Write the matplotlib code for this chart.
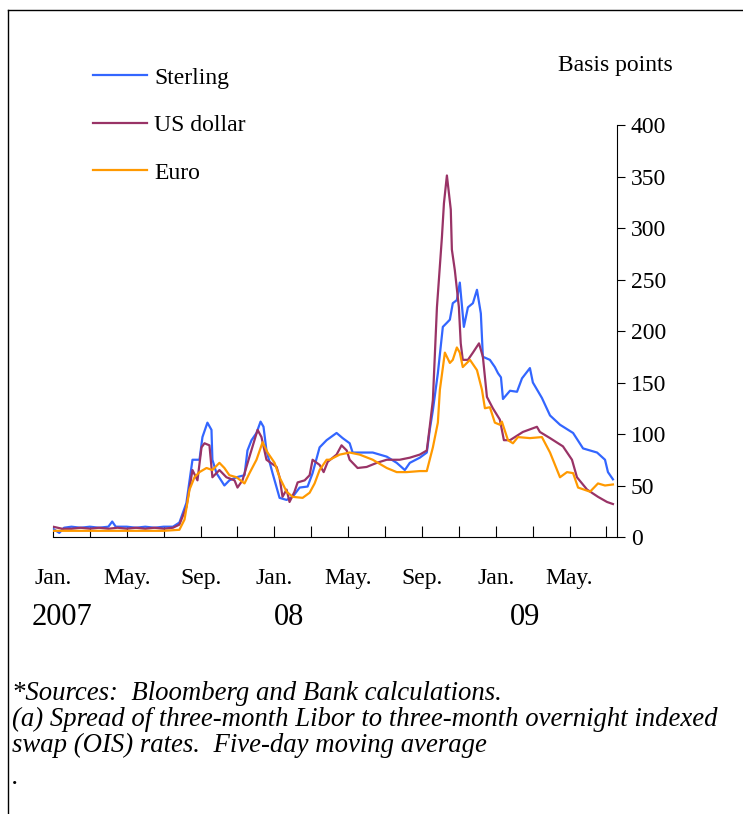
import matplotlib
matplotlib.use("Agg")
import matplotlib.pyplot as plt
from matplotlib.lines import Line2D

# months since Jan. 2007 and spread in basis points
sterling_m = [0.0, 0.34, 0.6, 1.0, 1.5, 2.0, 2.5, 3.0, 3.21, 3.4, 4.0, 4.5, 5.0, 5.5, 6.0, 6.5,
              6.85, 7.23, 7.56, 7.94, 8.10, 8.37, 8.59, 8.64, 8.86, 9.29, 9.56, 9.95, 10.38,
              10.54, 10.76, 11.03, 11.25, 11.41, 11.57, 11.90, 12.28, 12.66, 12.99, 13.37,
              13.80, 14.07, 14.45, 14.83, 15.37, 15.70, 16.08, 16.24, 17.00, 17.33, 18.09,
              18.63, 19.07, 19.34, 19.88, 20.26, 20.42, 20.59, 20.86, 21.13, 21.35, 21.51,
              21.67, 21.89, 22.05, 22.27, 22.49, 22.76, 22.98, 23.19, 23.30, 23.68, 23.95,
              24.12, 24.28, 24.39, 24.77, 25.15, 25.42, 25.85, 26.01, 26.50, 26.94, 27.48,
              28.19, 28.73, 29.49, 29.92, 30.08, 30.35]
sterling = [8, 4, 9, 10, 9, 10, 9, 10, 15, 10, 10, 9, 10, 9, 10, 10,
            14, 33, 75, 75, 97, 111, 104, 75, 62, 50, 55, 58, 60,
            84, 94, 101, 112, 107, 84, 62, 38, 36, 39, 48,
            49, 62, 87, 94, 101, 96, 91, 82, 82, 82, 78,
            72, 65, 72, 77, 82, 104, 123, 159, 204, 208, 211,
            227, 230, 247, 204, 223, 227, 240, 217, 175, 172, 165,
            159, 155, 134, 142, 141, 154, 164, 150, 135, 118, 109,
            101, 86, 82, 75, 63, 56]

usd_m = [0.0, 0.5, 1.0, 1.5, 2.0, 2.5, 3.0, 3.5, 4.0, 4.5, 5.0, 5.5, 6.0, 6.5, 6.85, 7.23,
         7.56, 7.83, 8.05, 8.21, 8.48, 8.64, 9.02, 9.40, 9.84, 10.00, 10.27, 10.65, 10.92,
         11.09, 11.30, 11.57, 12.12, 12.28, 12.44, 12.66, 12.82, 13.09, 13.26, 13.64, 13.91,
         14.07, 14.45, 14.67, 14.89, 15.37, 15.64, 15.92, 16.08, 16.51, 17.00, 17.55, 18.09,
         18.79, 19.34, 19.88, 20.26, 20.42, 20.59, 20.81, 21.08, 21.19, 21.35, 21.56, 21.62,
         21.78, 22.00, 22.10, 22.21, 22.49, 22.76, 23.09, 23.30, 23.52, 23.84, 24.22, 24.44,
         24.77, 25.47, 26.23, 26.39, 26.94, 27.64, 28.13, 28.40, 28.95, 29.54, 30.03, 30.35]
usd = [10, 8, 8, 9, 8, 9, 8, 9, 8, 9, 8, 9, 8, 9, 12, 29,
       65, 55, 87, 91, 89, 58, 65, 58, 55, 48, 55, 78, 94,
       104, 97, 75, 68, 58, 39, 46, 34, 44, 53, 55, 60,
       75, 70, 63, 73, 80, 89, 84, 75, 67, 68, 72, 75,
       75, 77, 80, 84, 107, 133, 223, 291, 324, 351, 318, 279,
       259, 223, 188, 172, 172, 179, 188, 175, 136, 125, 114, 94,
       94, 102, 107, 102, 96, 88, 75, 58, 46, 39, 34, 32]

euro_m = [0.0, 1.0, 2.0, 3.0, 4.0, 5.0, 6.0, 6.85, 7.13, 7.40, 7.67, 7.94, 8.32, 8.64, 9.02,
          9.29, 9.56, 9.95, 10.38, 10.65, 11.03, 11.36, 11.63, 12.01, 12.28, 12.66, 12.99,
          13.53, 13.91, 14.18, 14.45, 14.83, 15.00, 15.54, 16.08, 16.62, 17.33, 18.09, 18.63,
          19.17, 19.88, 20.26, 20.59, 20.86, 20.97, 21.24, 21.51, 21.67, 21.89, 22.05, 22.21,
          22.60, 22.98, 23.25, 23.41, 23.68, 23.95, 24.22, 24.33, 24.66, 24.93, 25.20, 25.85,
          26.50, 26.94, 27.48, 27.86, 28.19, 28.46, 29.11, 29.54, 29.92, 30.35]
euro = [6, 6, 6, 6, 6, 6, 6, 7, 17, 46, 58, 63, 67, 65, 72,
        67, 60, 58, 52, 62, 75, 92, 82, 72, 58, 44, 39,
        38, 43, 52, 65, 75, 75, 80, 82, 80, 75, 67, 63,
        63, 64, 64, 87, 111, 143, 179, 169, 172, 184, 179, 165,
        172, 162, 143, 125, 126, 111, 109, 112, 94, 91, 97, 96,
        97, 82, 58, 63, 62, 48, 44, 52, 50, 51]

tick_months = list(range(0, 31, 2))
label_months = [0, 4, 8, 12, 16, 20, 24, 28]
month_labels = ["Jan.", "May.", "Sep.", "Jan.", "May.", "Sep.", "Jan.", "May."]
years = ["2007", "08", "09"]
year_pos = [0.5, 12.8, 25.6]
y_ticks = [0, 50, 100, 150, 200, 250, 300, 350, 400]

plt.rcParams['font.family'] = ['Liberation Serif', 'DejaVu Serif']

fig = plt.figure(figsize=(7.43, 8.14), dpi=100)
W, H = 743, 814
ax = fig.add_axes([53 / W, 1 - 537 / H, 564 / W, 412 / H])

ax.plot(sterling_m, sterling, color='#3366ff', lw=1.6, label='Sterling')
ax.plot(usd_m, usd, color='#993366', lw=1.6, label='US dollar')
ax.plot(euro_m, euro, color='#ff9900', lw=1.6, label='Euro')

ax.set_xlim(0, 30.57)
ax.set_ylim(0, 400)

ax.spines['top'].set_visible(False)
ax.spines['left'].set_visible(False)

ax.yaxis.tick_right()
ax.set_yticks(y_ticks)
ax.tick_params(axis='y', direction='out', length=6, pad=4, labelsize=17)

ax.set_xticks(tick_months)
ax.set_xticklabels([month_labels[label_months.index(m)] if m in label_months else "" for m in tick_months])
ax.tick_params(axis='x', direction='in', length=8, pad=22, labelsize=17)

for yr, pos in zip(years, year_pos):
    ax.text(pos, -0.195, yr, transform=ax.get_xaxis_transform(), ha='center', va='center', fontsize=22)

ax.text(673 / W, 1 - 65 / H, "Basis points", transform=fig.transFigure, ha='right', va='center', fontsize=17)

ax.legend(loc='upper left', bbox_to_anchor=(93 / W, 1 - 67 / H), bbox_transform=fig.transFigure,
          frameon=False, fontsize=17, handlelength=2.3, handletextpad=0.3, labelspacing=1.1,
          borderpad=0, borderaxespad=0)

notes = ["*Sources:  Bloomberg and Bank calculations.",
         "(a) Spread of three-month Libor to three-month overnight indexed",
         "swap (OIS) rates.  Five-day moving average",
         "."]
note_y = [693, 719, 745, 778]
for t, yy in zip(notes, note_y):
    fig.text(12 / W, 1 - yy / H, t, ha='left', va='center', fontsize=19.3, style='italic')

# outer frame (top and left edges only, as in the original crop)
fig.add_artist(Line2D([8 / W, 1], [1 - 10 / H, 1 - 10 / H], color='black', lw=1, transform=fig.transFigure))
fig.add_artist(Line2D([8 / W, 8 / W], [0, 1 - 10 / H], color='black', lw=1, transform=fig.transFigure))

fig.savefig("out.png", dpi=100)
